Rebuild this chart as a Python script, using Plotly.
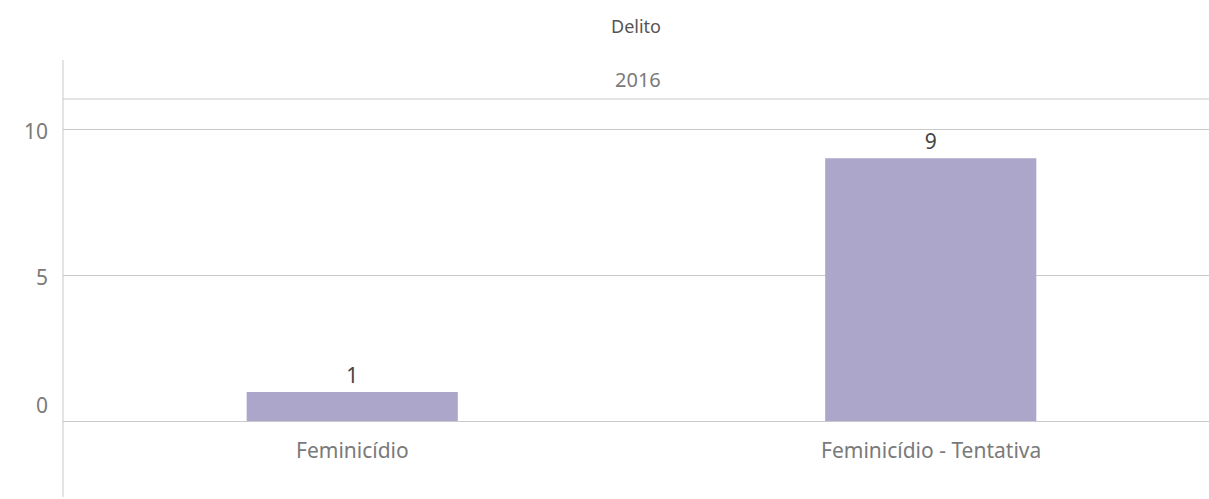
import plotly.graph_objects as go

categories = ["Feminicídio", "Feminicídio - Tentativa"]
values = [1, 9]
y_ticks = [0, 5, 10]
year_label = "2016"
column_title = "Delito"

W, H = 1209, 499
ml, mt, mb = 63, 99, 2
grid = "#c9c9c9"
label_col = "#7a7a7a"
font_fam = "Noto Sans, Open Sans, sans-serif"

fig = go.Figure()
fig.add_trace(go.Bar(
    x=list(range(len(categories))), y=values,
    marker=dict(color="#aba6ca", line=dict(width=0)),
    width=0.365,
    text=[str(v) for v in values], textposition="outside",
    textfont=dict(color="#444444", size=21, family=font_fam),
    cliponaxis=False, hoverinfo="skip",
))

fig.update_layout(
    width=W, height=H,
    margin=dict(l=ml, r=0, t=mt, b=mb, autoexpand=False),
    paper_bgcolor="white", plot_bgcolor="white",
    showlegend=False,
    font=dict(family=font_fam),
    xaxis=dict(range=[-0.5, 1.481], showgrid=False, showticklabels=False,
               zeroline=False, showline=False, fixedrange=True),
    yaxis=dict(range=[-2.6, 11.03], tickvals=y_ticks, showticklabels=False,
               showgrid=True, gridcolor=grid, gridwidth=1,
               zeroline=True, zerolinecolor=grid, zerolinewidth=1,
               showline=False, fixedrange=True),
)

ph = H - mt - mb
pw = W - ml

# left vertical rule and header line
fig.add_shape(type="line", xref="paper", yref="paper", x0=0, x1=0,
              y0=0, y1=(H - mb - 60) / ph, line=dict(color=grid, width=1))
fig.add_shape(type="line", xref="paper", yref="paper", x0=0, x1=1,
              y0=1, y1=1, line=dict(color=grid, width=1))

# y tick labels
for v in y_ticks:
    fig.add_annotation(x=0, xref="paper", y=v, yref="y", text=str(v),
                       showarrow=False, xanchor="right", xshift=-13,
                       yshift=16 if v == 0 else -2,
                       font=dict(size=21, color=label_col, family=font_fam))

# category labels
for i, c in enumerate(categories):
    fig.add_annotation(x=i, xref="x", y=-1.0, yref="y", text=c, showarrow=False,
                       font=dict(size=21, color=label_col, family=font_fam))

# headers (pixel positions converted to paper coordinates)
fig.add_annotation(x=(638 - ml) / pw, xref="paper", y=(H - mb - 79) / ph, yref="paper",
                   text=year_label, showarrow=False, yanchor="middle",
                   font=dict(size=20, color=label_col, family=font_fam))
fig.add_annotation(x=(636 - ml) / pw, xref="paper", y=(H - mb - 26) / ph, yref="paper",
                   text=column_title, showarrow=False, yanchor="middle",
                   font=dict(size=18, color="#555555", family=font_fam))

fig.write_html("out.html", config={"displayModeBar": False, "responsive": False})

with open("out.html", "r", encoding="utf-8") as f:
    html = f.read()
html = html.replace("<html>", '<html style="margin:0;padding:0;overflow:hidden">', 1)
html = html.replace("<body>", '<body style="margin:0;padding:0;overflow:hidden">', 1)
with open("out.html", "w", encoding="utf-8") as f:
    f.write(html)
